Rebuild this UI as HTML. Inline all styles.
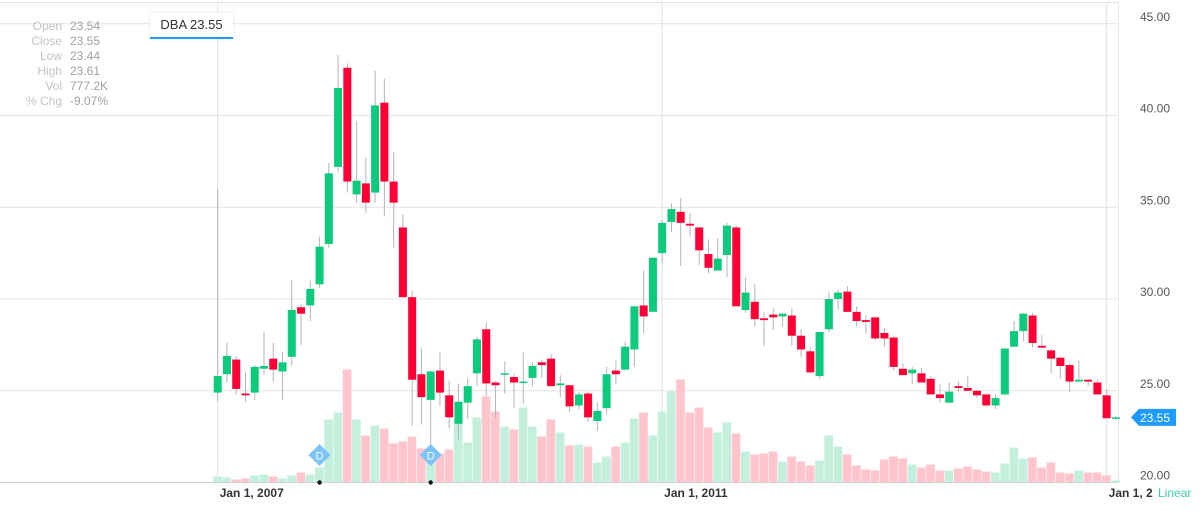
<!DOCTYPE html>
<html><head><meta charset="utf-8"><style>
html,body{margin:0;padding:0;background:#fff;width:1200px;height:516px;overflow:hidden;font-family:"Liberation Sans",sans-serif}
#hdr{position:absolute;left:0;top:19px;font-size:12px;line-height:15px}
.row{display:flex}
.lab{width:62px;text-align:right;color:#c4c4c4}
.val{margin-left:8px;color:#a0a0a0}
#sym{position:absolute;left:150px;top:13px;width:83px;height:24px;background:#fff;box-shadow:0 0 3px rgba(0,0,0,0.12);font-size:13px;color:#333;text-align:center;line-height:24px;border-bottom:2px solid #1e9bff;box-sizing:content-box}
</style></head><body>
<svg id="chart" width="1200" height="516" style="position:absolute;left:0;top:0"></svg>
<div id="hdr">
<div class="row"><span class="lab">Open</span><span class="val">23.54</span></div>
<div class="row"><span class="lab">Close</span><span class="val">23.55</span></div>
<div class="row"><span class="lab">Low</span><span class="val">23.44</span></div>
<div class="row"><span class="lab">High</span><span class="val">23.61</span></div>
<div class="row"><span class="lab">Vol</span><span class="val">777.2K</span></div>
<div class="row"><span class="lab">% Chg</span><span class="val">-9.07%</span></div>
</div>
<div id="sym">DBA 23.55</div>
<script>
const opens=[24.9,25.9,26.7,24.85,24.9,26.2,26.75,26.05,26.85,29.55,29.65,30.8,33.0,37.2,42.6,35.7,36.3,35.8,40.7,36.4,33.9,30.1,25.9,24.5,26.1,24.75,23.2,24.35,25.95,28.35,25.45,25.9,25.75,25.45,25.7,26.55,26.75,25.3,25.3,24.2,24.85,23.35,24.05,26.1,26.15,27.25,29.65,29.3,32.5,34.2,34.75,34.1,33.9,32.45,31.55,32.4,33.9,29.4,29.85,28.95,29.15,29.05,29.1,28.0,27.15,25.8,28.35,30.0,30.4,29.3,28.85,29.0,28.15,27.9,26.2,25.95,25.95,25.65,24.8,24.35,25.25,25.15,25.0,24.8,24.2,24.8,27.4,28.25,29.1,27.45,27.2,26.8,26.4,25.5,25.6,25.45,24.75,23.54];
const highs=[36.0,27.6,26.9,26.0,26.4,28.2,27.6,27.1,31.05,29.7,31.0,33.4,37.4,43.3,42.85,39.7,37.7,42.45,42.0,38.0,34.6,30.45,27.3,26.1,27.1,25.55,25.4,25.7,27.95,28.75,25.5,26.6,25.9,27.1,26.55,26.7,27.0,25.85,25.3,24.95,24.95,24.35,26.3,26.65,27.7,29.6,31.55,32.25,34.3,35.2,35.5,34.7,33.9,33.25,33.3,34.15,34.0,31.15,30.8,29.3,29.5,29.2,29.5,28.35,27.4,28.2,30.35,30.5,30.7,29.6,29.1,29.0,28.4,28.0,26.5,26.3,26.25,25.8,25.35,25.45,25.5,25.8,25.05,24.8,24.8,27.3,28.8,29.25,29.25,28.05,27.25,26.85,26.5,26.65,25.65,25.6,25.05,23.61];
const lows=[24.4,25.45,24.8,24.4,24.5,25.9,25.5,24.5,26.4,27.5,28.8,30.6,32.8,36.9,35.8,35.25,34.7,35.25,34.5,32.8,30.1,23.1,23.15,21.9,24.15,22.95,22.35,23.45,25.25,24.7,23.55,24.85,24.05,24.3,25.25,25.7,25.25,24.65,23.85,24.0,23.3,22.8,23.75,25.35,26.15,26.3,28.15,29.3,31.9,33.65,31.8,33.4,31.85,31.4,31.55,31.2,29.6,29.25,28.5,27.45,28.3,28.5,27.45,26.85,25.95,25.65,28.2,29.4,29.3,28.5,28.1,27.75,27.4,26.1,25.85,25.35,25.45,24.8,24.35,24.35,24.9,25.0,24.6,24.15,24.0,24.75,27.4,27.7,27.35,27.35,25.95,25.65,24.95,25.5,25.25,24.8,23.5,23.44];
const closes=[25.8,26.9,25.1,24.75,26.3,26.35,26.15,26.55,29.4,29.2,30.55,32.85,36.85,41.5,36.4,36.45,35.25,40.55,36.4,35.25,30.1,25.6,24.65,26.05,24.9,23.55,24.4,25.25,27.8,25.4,25.3,25.95,25.45,25.5,26.35,26.4,25.25,25.4,24.15,24.8,23.55,23.9,25.9,25.9,27.4,29.6,29.05,32.25,34.15,34.9,34.15,34.0,32.65,31.7,32.2,34.0,29.6,30.35,28.9,28.85,29.0,29.2,28.0,27.25,26.0,28.2,30.0,30.35,29.3,28.8,28.75,27.85,27.85,26.3,25.85,26.15,25.45,24.8,24.6,24.95,25.15,25.0,24.75,24.2,24.6,27.3,28.25,29.2,27.6,27.35,26.75,26.35,25.5,25.6,25.5,24.8,23.5,23.55];
const volumes=[600,500,300,400,700,800,600,400,700,1000,800,1500,6300,7000,11300,6300,4700,5700,5400,3900,4100,4600,3400,3500,2900,3300,6300,4000,6500,8600,7100,5600,5300,7500,5600,4600,6300,5000,3700,3800,3600,2000,2600,3600,4000,6400,7000,4700,7100,9100,10300,7000,7500,5500,5000,6000,4900,3100,2800,2900,3100,2100,2600,2100,1700,2200,4700,3600,2800,1700,1300,1200,2300,2600,2400,1800,1500,1800,1200,1200,1400,1600,1300,1100,1000,1900,3500,2400,2500,1500,2000,1000,900,1200,1000,1000,700,200];
const priceTicks=[20,25,30,35,40,45];
const dateTicks=[{m:0,label:"Jan 1, 2007"},{m:48,label:"Jan 1, 2011"},{m:96,label:"Jan 1, 2015"}];
const dividendMonths=[11,23];
const lastPrice=23.55;

const NS="http://www.w3.org/2000/svg";
const svg=document.getElementById('chart');
const plotR=1118, axisY=482.5;
const xS=m=>217.7+m*9.26;
const yS=p=>482.5-(p-20)*18.35;
const vS=v=>axisY-v/100;
function mk(t,a,p){const e=document.createElementNS(NS,t);for(const k in a)e.setAttribute(k,a[k]);(p||svg).appendChild(e);return e;}

const grid=mk('g',{});


mk('line',{x1:0,x2:plotR,y1:2.5,y2:2.5,stroke:'#e2e2e6'},grid);
mk('line',{x1:plotR+0.5,x2:plotR+0.5,y1:2,y2:483,stroke:'#e8e8ec'},grid);
priceTicks.forEach(p=>{
  if(p>20) mk('line',{x1:0,x2:plotR,y1:yS(p),y2:yS(p),stroke:'#e4e4e8'},grid);
  const t=mk('text',{x:1170,y:yS(p)-3,'text-anchor':'end','font-size':12,fill:'#555'});
  t.textContent=p.toFixed(2);
  
  
});
dateTicks.forEach(d=>{
  mk('line',{x1:xS(d.m),x2:xS(d.m),y1:2,y2:483,stroke:'#e0e0e6'},grid);
});

const vg=mk('g',{});


volumes.forEach((v,i)=>{
  const up=closes[i]>=opens[i];
  const r=mk('rect',{x:xS(i)-4.5,y:vS(v),width:8.6,height:axisY-vS(v),fill:up?'#c2f0dc':'#ffc4cc'},vg);
  
  
});

const cg=mk('g',{});


opens.forEach((o,i)=>{
  const c=closes[i],up=c>=o,x=xS(i);
  const g=mk('g',{},cg);
  
  
  mk('line',{x1:x,x2:x,y1:yS(highs[i]),y2:yS(lows[i]),stroke:'#b4b4bc','stroke-width':1},g);
  const top=yS(Math.max(o,c)),bot=yS(Math.min(o,c));
  mk('rect',{x:x-4,y:top,width:8,height:Math.max(1.5,bot-top),fill:up?'#0ccb7c':'#ff0036'},g);
});

mk('line',{x1:0,x2:plotR,y1:axisY,y2:axisY,stroke:'#cfcfd4'});

dividendMonths.forEach(m=>{
  const x=xS(m);
  const g=mk('g',{});
  
  
  mk('polygon',{points:`${x},444 ${x+11},455 ${x},466 ${x-11},455`,fill:'#7cc4f7'},g);
  const t=mk('text',{x:x,y:459.5,'text-anchor':'middle','font-size':11,fill:'#fff'},g);t.textContent='D';
  mk('circle',{cx:x,cy:axisY,r:2.2,fill:'#111'},g);
});

const cp=mk('clipPath',{id:'xc'});mk('rect',{x:0,y:483,width:1153,height:33},cp);
dateTicks.forEach(d=>{
  const t=mk('text',{x:xS(d.m)+2,y:497,'font-size':12,'font-weight':'bold',fill:'#333','clip-path':'url(#xc)'});
  t.textContent=d.label;
  
  
});
const lin=mk('text',{x:1158,y:497,'font-size':12,fill:'#3ccfab'});lin.textContent='Linear';



const py=yS(lastPrice);
const tag=mk('g',{});


mk('polygon',{points:`1131,${py} 1139,${py-8.5} 1176,${py-8.5} 1176,${py+8.5} 1139,${py+8.5}`,fill:'#1e9bff'},tag);
const pt=mk('text',{x:1170,y:py+4.5,'text-anchor':'end','font-size':12,fill:'#fff'},tag);pt.textContent=lastPrice.toFixed(2);
</script>
</body></html>
